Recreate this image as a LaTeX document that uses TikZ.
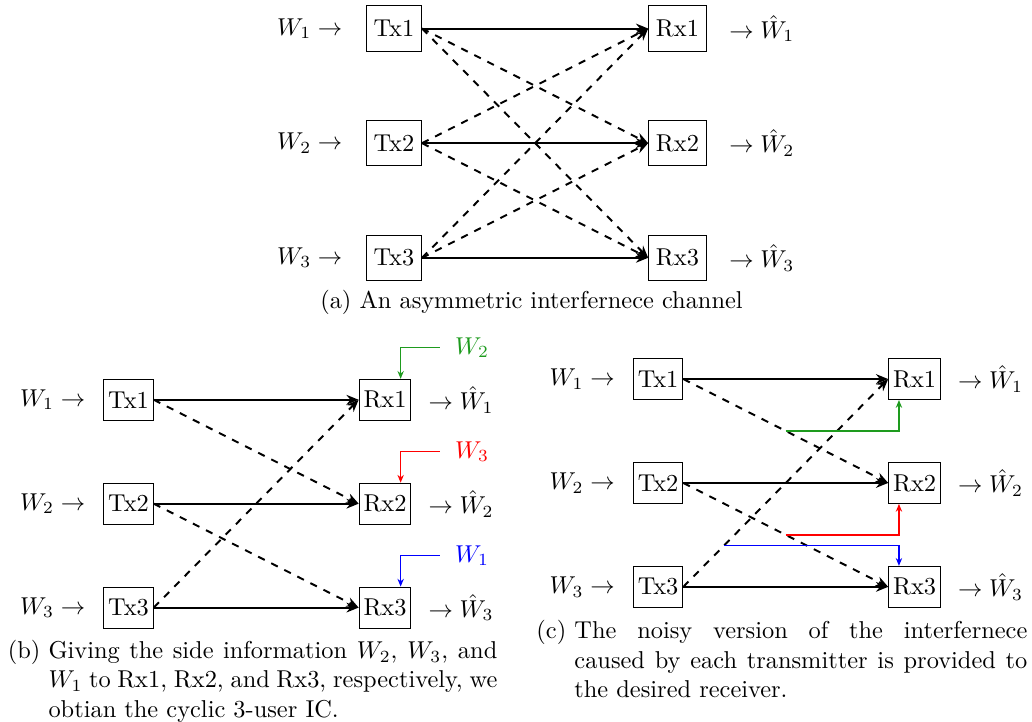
\documentclass[tikz,border=0pt]{standalone}
\usepackage{amsmath}
\usepackage{amssymb}
\usepackage{tikz}
\usetikzlibrary{positioning,arrows.meta,calc}
\definecolor{SideGreen}{RGB}{30,155,30}
\definecolor{SideRed}{RGB}{255,0,0}
\definecolor{SideBlue}{RGB}{0,0,255}

\begin{document}
\begin{tikzpicture}[
        node distance=27.9pt and 92.7pt,
        user/.style={
            rectangle, draw, inner xsep=3pt, inner ysep=0pt,
            minimum height=18.7pt
        },
        usersm/.style={
            rectangle, draw, inner xsep=1.8pt, inner ysep=0pt,
            minimum height=16.8pt
        },
        msg/.style={inner sep=0pt},
        direct/.style={-{Stealth[length=5pt,width=4pt]}, thick},
        interf/.style={-{Stealth[length=5pt,width=4pt]}, thick, dashed},
        side/.style={-{Stealth[length=3.2pt,width=2.6pt]}, line width=0.5pt},
        capbox/.style={inner sep=0pt, text width=#1, align=justify}
    ]
        \useasboundingbox (0,0) rectangle (423.1pt,-296pt);

        % (a) asymmetric channel
        \node[user] (txa1) at (161.5pt,-11.7pt) {Tx1};
        \node[user, below=of txa1] (txa2) {Tx2};
        \node[user, below=of txa2] (txa3) {Tx3};
        \node[user, right=of txa1] (rxa1) {Rx1};
        \node[user, right=of txa2] (rxa2) {Rx2};
        \node[user, right=of txa3] (rxa3) {Rx3};
        \node[msg, left=9.4pt of txa1] (wa1) {$W_1 \rightarrow$};
        \node[msg, left=9.4pt of txa2] (wa2) {$W_2 \rightarrow$};
        \node[msg, left=9.4pt of txa3] (wa3) {$W_3 \rightarrow$};
        \node[msg, right=9pt of rxa1] (va1) {$\rightarrow \hat{W}_1$};
        \node[msg, right=9pt of rxa2] (va2) {$\rightarrow \hat{W}_2$};
        \node[msg, right=9pt of rxa3] (va3) {$\rightarrow \hat{W}_3$};

        \draw[direct] (txa1.east) -- (rxa1.west);
        \draw[direct] (txa2.east) -- (rxa2.west);
        \draw[direct] (txa3.east) -- (rxa3.west);
        \draw[interf] (txa1.east) -- (rxa2.west);
        \draw[interf] (txa1.east) -- (rxa3.west);
        \draw[interf] (txa2.east) -- (rxa1.west);
        \draw[interf] (txa2.east) -- (rxa3.west);
        \draw[interf] (txa3.east) -- (rxa1.west);
        \draw[interf] (txa3.east) -- (rxa2.west);

        \node[anchor=base] (capa) at (217.9pt,-126.3pt) {(a) An asymmetric interfernece channel};

        % (b) side information
        \node[usersm] (txb1) at (52.7pt,-163.9pt) {Tx1};
        \node[usersm, below=25.4pt of txb1] (txb2) {Tx2};
        \node[usersm, below=25.4pt of txb2] (txb3) {Tx3};
        \node[usersm, right=84pt of txb1] (rxb1) {Rx1};
        \node[usersm, right=84pt of txb2] (rxb2) {Rx2};
        \node[usersm, right=84pt of txb3] (rxb3) {Rx3};
        \node[msg, left=7.2pt of txb1] (wb1) {$W_1 \rightarrow$};
        \node[msg, left=7.2pt of txb2] (wb2) {$W_2 \rightarrow$};
        \node[msg, left=7.2pt of txb3] (wb3) {$W_3 \rightarrow$};
        \node[msg, right=6.8pt of rxb1] (vb1) {$\rightarrow \hat{W}_1$};
        \node[msg, right=6.8pt of rxb2] (vb2) {$\rightarrow \hat{W}_2$};
        \node[msg, right=6.8pt of rxb3] (vb3) {$\rightarrow \hat{W}_3$};
        \node[msg, anchor=west, text=SideGreen] (sb1) at ([shift={(17.7pt,12.7pt)}]rxb1.north east) {$W_2$};
        \node[msg, anchor=west, text=SideRed] (sb2) at ([shift={(17.7pt,12.7pt)}]rxb2.north east) {$W_3$};
        \node[msg, anchor=west, text=SideBlue] (sb3) at ([shift={(17.7pt,12.7pt)}]rxb3.north east) {$W_1$};

        \draw[direct] (txb1.east) -- (rxb1.west);
        \draw[direct] (txb2.east) -- (rxb2.west);
        \draw[direct] (txb3.east) -- (rxb3.west);
        \draw[interf] (txb1.east) -- (rxb2.west);
        \draw[interf] (txb2.east) -- (rxb3.west);
        \draw[interf] (txb3.east) -- (rxb1.west);
        \draw[side, SideGreen] ([xshift=-6pt]sb1.west) -| ([xshift=6.4pt]rxb1.north);
        \draw[side, SideRed] ([xshift=-6pt]sb2.west) -| ([xshift=6.4pt]rxb2.north);
        \draw[side, SideBlue] ([xshift=-6pt]sb3.west) -| ([xshift=6.4pt]rxb3.north);

        \node[capbox=184pt, anchor=north west] (capb) at (19.7pt,-262.3pt)
            {\noindent\llap{(b)\ }Giving the side information $W_2$, $W_3$, and\linebreak
             $W_1$ to Rx1, Rx2, and Rx3, respectively, we\linebreak
             obtian the cyclic 3-user IC.};

        % (c) noisy interference
        \node[usersm] (txc1) at (269.8pt,-155.4pt) {Tx1};
        \node[usersm, below=25.4pt of txc1] (txc2) {Tx2};
        \node[usersm, below=25.4pt of txc2] (txc3) {Tx3};
        \node[usersm, right=84pt of txc1] (rxc1) {Rx1};
        \node[usersm, right=84pt of txc2] (rxc2) {Rx2};
        \node[usersm, right=84pt of txc3] (rxc3) {Rx3};
        \node[msg, left=7.2pt of txc1] (wc1) {$W_1 \rightarrow$};
        \node[msg, left=7.2pt of txc2] (wc2) {$W_2 \rightarrow$};
        \node[msg, left=7.2pt of txc3] (wc3) {$W_3 \rightarrow$};
        \node[msg, right=6.8pt of rxc1] (vc1) {$\rightarrow \hat{W}_1$};
        \node[msg, right=6.8pt of rxc2] (vc2) {$\rightarrow \hat{W}_2$};
        \node[msg, right=6.8pt of rxc3] (vc3) {$\rightarrow \hat{W}_3$};

        \draw[direct] (txc1.east) -- (rxc1.west);
        \draw[direct] (txc2.east) -- (rxc2.west);
        \draw[direct] (txc3.east) -- (rxc3.west);
        \draw[interf] (txc1.east) -- coordinate[pos=0.5] (nc1) (rxc2.west);
        \draw[interf] (txc2.east) -- coordinate[pos=0.5] (nc2) (rxc3.west);
        \draw[interf] (txc3.east) -- coordinate[pos=0.2] (nc3) (rxc1.west);
        \draw[side, SideGreen] (nc1) -| ([xshift=-6.4pt]rxc1.south);
        \draw[side, SideRed] (nc2) -| ([xshift=-6.4pt]rxc2.south);
        \draw[side, SideBlue] (nc3) -| ([xshift=-6.4pt]rxc3.north);

        \node[capbox=185.7pt, anchor=north west] (capc) at (235.3pt,-254.2pt)
            {\noindent\llap{(c)\ }The noisy version of the interfernece\linebreak
             caused by each transmitter is provided to\linebreak
             the desired receiver.};
    \end{tikzpicture}
\end{document}
